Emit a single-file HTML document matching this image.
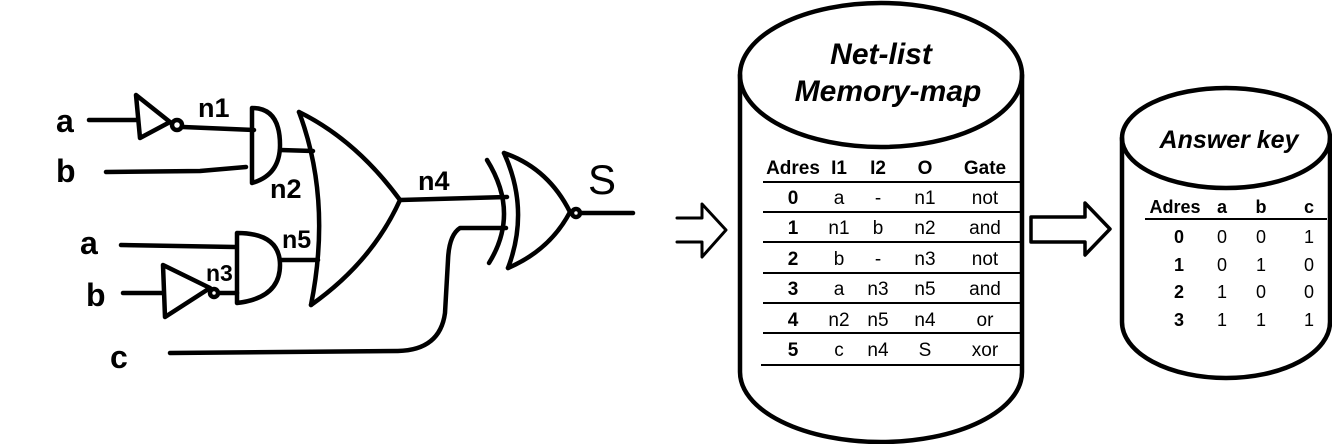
<!DOCTYPE html>
<html><head><meta charset="utf-8"><style>
html,body{margin:0;padding:0;background:#fff;width:1332px;height:444px;overflow:hidden}
svg{display:block}
.t{font-family:"Liberation Sans",sans-serif;fill:#000}
</style></head><body>
<svg width="1332" height="444" viewBox="0 0 1332 444" xmlns="http://www.w3.org/2000/svg">
<g fill="none" stroke="#000" stroke-width="4.5" stroke-linecap="round" stroke-linejoin="round">
<path d="M89 120 H136"/>
<path d="M136 95 L140 138 L170 122 Z"/>
<circle cx="177" cy="125" r="5"/>
<path d="M183 127 L254 130"/>
<path d="M106 172 L200 171 L246 167"/>
<path d="M252 108 L252 183 M252 108 Q280 108 280 145 Q280 175 252 183"/>
<path d="M280 150 L313 151"/>
<path d="M299 112 Q332 200 311 305"/>
<path d="M299 112 Q356 140 400 200 Q372 262 311 305"/>
<path d="M400 200 L507 197"/>
<path d="M487 160 Q520 213 489 263"/>
<path d="M504 153 Q530 210 508 268"/>
<path d="M504 153 Q548 168 570 212 Q550 250 508 268"/>
<circle cx="576" cy="213" r="4"/>
<path d="M580 213 L633 213"/>
<path d="M506 228 L460 228 Q449 235 448 260 L445 313 Q440 350 398 351 L170 353"/>
<path d="M121 245 L235 247"/>
<path d="M237 233 L237 303 M237 233 Q280 233 280 265 Q280 298 237 303"/>
<path d="M280 260 L318 260"/>
<path d="M123 293 L163 293"/>
<path d="M163 265 L165 317 L210 288 Z"/>
<circle cx="214" cy="293" r="4"/>
<path d="M219 293 L237 293"/>
<path d="M677 218 H702 V204 L726 230 L702 257 V242 H677" stroke-width="3"/>
<path d="M1031 217 H1085 V203 L1110 229 L1085 255 V242 H1031 Z" stroke-width="3.5"/>
<ellipse cx="881" cy="75" rx="141" ry="72"/>
<path d="M740 75 V372 A141 70 0 0 0 1022 372 V75"/>
<ellipse cx="1226" cy="138" rx="104" ry="50"/>
<path d="M1122 138 V322 A104 56 0 0 0 1330 322 V138"/>
</g>
<g class="t" font-size="32" font-weight="bold">
<text x="56" y="132">a</text>
<text x="56" y="182">b</text>
<text x="198" y="117" font-size="27">n1</text>
<text x="270" y="198" font-size="27">n2</text>
<text x="418" y="190" font-size="27">n4</text>
<text x="588" y="194" font-size="42" font-weight="normal">S</text>
<text x="80" y="254">a</text>
<text x="86" y="306">b</text>
<text x="282" y="248" font-size="25">n5</text>
<text x="206" y="281" font-size="23">n3</text>
<text x="110" y="368">c</text>
</g>
<g class="t">
<text x="881" y="64" font-size="30" font-weight="bold" font-style="italic" text-anchor="middle">Net-list</text>
<text x="888" y="101" font-size="30" font-weight="bold" font-style="italic" text-anchor="middle">Memory-map</text>
<g font-size="19" text-anchor="middle">
<g font-weight="bold"><text x="793" y="174">Adres</text><text x="839" y="174">I1</text><text x="878" y="174">I2</text><text x="925" y="174">O</text><text x="985" y="174">Gate</text></g>
<g font-weight="bold"><text x="793" y="204">0</text><text x="793" y="234">1</text><text x="793" y="265">2</text><text x="793" y="295">3</text><text x="793" y="326">4</text><text x="793" y="356">5</text></g>
<text x="839" y="204">a</text><text x="878" y="204">-</text><text x="925" y="204">n1</text><text x="985" y="204">not</text>
<text x="839" y="234">n1</text><text x="878" y="234">b</text><text x="925" y="234">n2</text><text x="985" y="234">and</text>
<text x="839" y="265">b</text><text x="878" y="265">-</text><text x="925" y="265">n3</text><text x="985" y="265">not</text>
<text x="839" y="295">a</text><text x="878" y="295">n3</text><text x="925" y="295">n5</text><text x="985" y="295">and</text>
<text x="839" y="326">n2</text><text x="878" y="326">n5</text><text x="925" y="326">n4</text><text x="985" y="326">or</text>
<text x="839" y="356">c</text><text x="878" y="356">n4</text><text x="925" y="356">S</text><text x="985" y="356">xor</text>
</g>
<g stroke="#000" stroke-width="2"><path d="M763 182H1021M763 212H1021M763 242H1021M763 273H1021M763 303H1021M763 333H1021M761 365H1021"/></g>
</g>
<g class="t">
<text x="1229" y="148" font-size="25" font-weight="bold" font-style="italic" text-anchor="middle">Answer key</text>
<g font-size="18" text-anchor="middle">
<g font-weight="bold"><text x="1175" y="213">Adres</text><text x="1222" y="213">a</text><text x="1261" y="213">b</text><text x="1309" y="213">c</text></g>
<g font-weight="bold"><text x="1179" y="243">0</text><text x="1179" y="271">1</text><text x="1179" y="298">2</text><text x="1179" y="326">3</text></g>
<text x="1222" y="243">0</text><text x="1261" y="243">0</text><text x="1309" y="243">1</text>
<text x="1222" y="271">0</text><text x="1261" y="271">1</text><text x="1309" y="271">0</text>
<text x="1222" y="298">1</text><text x="1261" y="298">0</text><text x="1309" y="298">0</text>
<text x="1222" y="326">1</text><text x="1261" y="326">1</text><text x="1309" y="326">1</text>
</g>
<path d="M1145 219H1327" stroke="#000" stroke-width="2"/>
</g>
</svg>
</body></html>
